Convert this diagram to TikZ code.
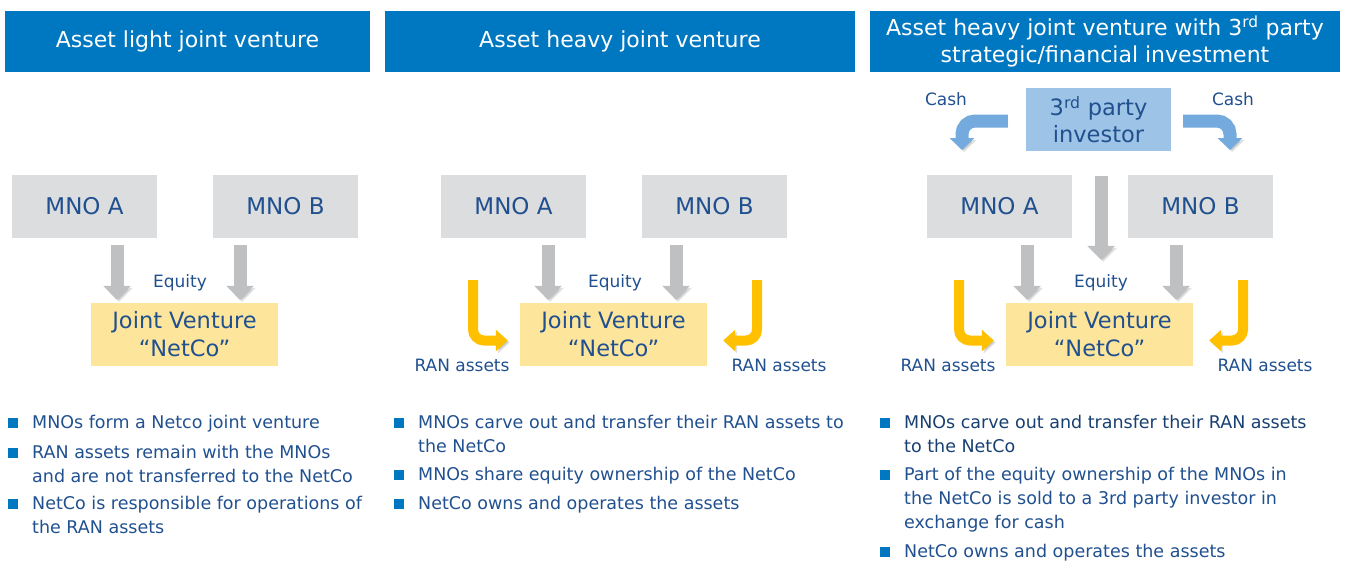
\documentclass[tikz,border=0pt]{standalone}
\usepackage{fontspec}
\setmainfont{DejaVu Sans}
\usetikzlibrary{arrows.meta}

\definecolor{hdblue}{HTML}{0078C1}
\definecolor{txtblue}{HTML}{21508F}
\definecolor{txtdark}{HTML}{173F72}
\definecolor{mnogray}{HTML}{DCDDDE}
\definecolor{arrgray}{HTML}{BFC0C2}
\definecolor{jvyellow}{HTML}{FDE59B}
\definecolor{ranyellow}{HTML}{FFC000}
\definecolor{invblue}{HTML}{9DC3E6}
\definecolor{cashblue}{HTML}{74AADD}

\tikzset{
  header/.style={fill=hdblue, text=white, minimum height=61pt, inner sep=0pt, align=center, font=\fontsize{22}{27}\selectfont},
  mno/.style={fill=mnogray, text=txtblue, minimum width=145pt, minimum height=63pt, inner sep=0pt, font=\fontsize{23}{27}\selectfont},
  jv/.style={fill=jvyellow, text=txtblue, minimum width=187pt, minimum height=63pt, inner sep=0pt, align=center, font=\fontsize{22.5}{28}\selectfont},
  lbl/.style={text=txtblue, inner sep=0pt, font=\fontsize{17}{21}\selectfont},
  shade/.style={preaction={draw=black, opacity=0.12, transform canvas={shift={(2pt,-2pt)}}}},
  equity/.style={shade, draw=arrgray, line width=13pt, -{Triangle[width=27pt,length=14pt]}},
  ran/.style={shade, draw=ranyellow, line width=10pt, rounded corners=11pt, -{Triangle[width=21pt,length=12pt]}},
  cash/.style={shade, draw=cashblue, line width=13pt, rounded corners=13pt, -{Triangle[width=24pt,length=12pt]}},
  item/.style={text=txtblue, anchor=north west, align=left, inner sep=0pt, font=\fontsize{17.5}{24}\selectfont},
}
\newcommand{\sqbul}{\llap{\textcolor{hdblue}{\rule[0.5pt]{10pt}{10pt}}\hspace{14pt}}}

\begin{document}
\begin{tikzpicture}[x=1pt,y=-1pt]
  \useasboundingbox (0,0) rectangle (1346,566);

  % headers
  \node[header, minimum width=365pt] (h1) at (187.5,41.5) {Asset light joint venture};
  \node[header, minimum width=470pt] (h2) at (620,41.5) {Asset heavy joint venture};
  \node[header, minimum width=470pt] (h3) at (1105,41.5) {Asset heavy joint venture with 3\textsuperscript{rd} party\\strategic/financial investment};

  % the three structures
  \foreach \i/\s/\xa/\xb in {1/0/117/240, 2/429/119/247, 3/915/112/261}{
    \begin{scope}[shift={(\s,0)}]
      \node[mno] (mnoa\i) at (84.5,206.5) {MNO A};
      \node[mno] (mnob\i) at (285.5,206.5) {MNO B};
      \node[jv] (jv\i) at (184.5,334.5) {Joint Venture\\``NetCo''};

      \coordinate (ea\i) at (\xa,245);
      \coordinate (eb\i) at (\xb,245);
      \draw[equity] (ea\i) -- (ea\i |- jv\i.north) [shorten >=3pt];
      \draw[equity] (eb\i) -- (eb\i |- jv\i.north) [shorten >=3pt];

      \ifnum\i>1
        \coordinate (ra\i) at (44,280);
        \coordinate (rb\i) at (328,280);
        \draw[ran, shorten >=12pt] (ra\i) |- ([yshift=-6pt]jv\i.west);
        \draw[ran, shorten >=16pt] (rb\i) |- ([yshift=-6pt]jv\i.east);
        \node[lbl] (rana\i) at (33,365) {RAN assets};
        \node[lbl] (ranb\i) at (350,365) {RAN assets};
        \node[lbl] (eq\i) at (186,283) {Equity};
      \else
        \node[lbl] (eq\i) at (180,283) {Equity};
      \fi
    \end{scope}
  }

  % third party investor
  \node[jv, fill=invblue, minimum width=145pt, font=\fontsize{22.5}{27}\selectfont] (inv) at (1098.5,119.5) {3\textsuperscript{rd} party\\investor};
  \coordinate (cashl) at (962,150);
  \coordinate (cashr) at (1230,150);
  \draw[cash, shorten <=18pt] ([yshift=-1.5pt]inv.west) -| (cashl);
  \draw[cash, shorten <=12pt] ([yshift=-1.5pt]inv.east) -| (cashr);
  \node[lbl] (cash1) at (946,99) {Cash};
  \node[lbl] (cash2) at (1233,99) {Cash};
  \coordinate (ei) at (1101,176);
  \draw[equity] (ei) -- (ei |- jv3.north) [shorten >=43pt];

  % bullets
  \node[item] (b11) at (32,415) {\sqbul MNOs form a Netco joint venture};
  \node[item] (b12) at (32,445) {\sqbul RAN assets remain with the MNOs\\and are not transferred to the NetCo};
  \node[item] (b13) at (32,496) {\sqbul NetCo is responsible for operations of\\the RAN assets};

  \node[item] (b21) at (418,415) {\sqbul MNOs carve out and transfer their RAN assets to\\the NetCo};
  \node[item] (b22) at (418,467) {\sqbul MNOs share equity ownership of the NetCo};
  \node[item] (b23) at (418,496) {\sqbul NetCo owns and operates the assets};

  \node[item, text=txtdark] (b31) at (904,415) {\sqbul MNOs carve out and transfer their RAN assets\\to the NetCo};
  \node[item] (b32) at (904,467) {\sqbul Part of the equity ownership of the MNOs in\\the NetCo is sold to a 3rd party investor in\\exchange for cash};
  \node[item] (b33) at (904,544) {\sqbul NetCo owns and operates the assets};
\end{tikzpicture}
\end{document}
